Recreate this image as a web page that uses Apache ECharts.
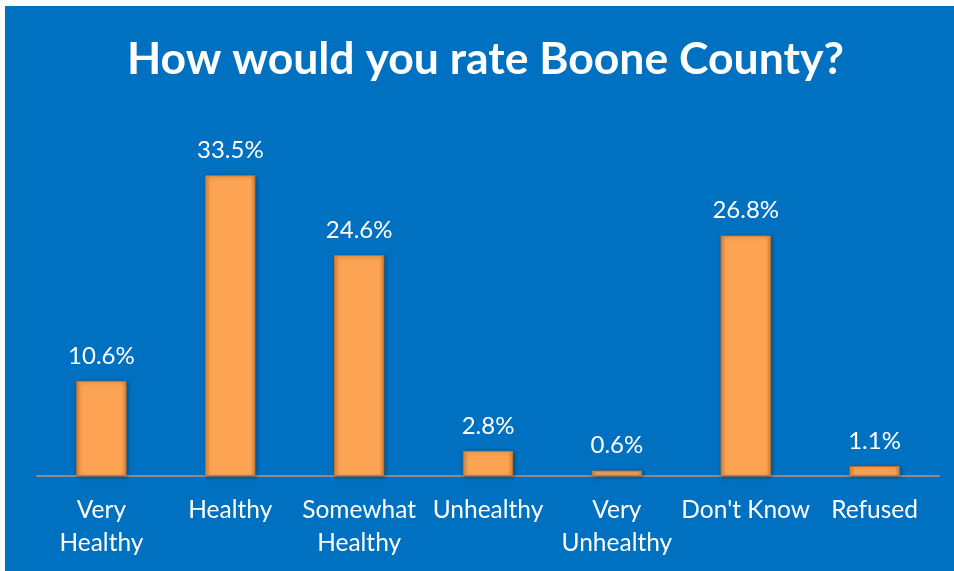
<!DOCTYPE html>
<html>
<head>
<meta charset="utf-8">
<script src="https://cdn.jsdelivr.net/npm/echarts@6/dist/echarts.min.js"></script>
<style>
html,body{margin:0;padding:0;background:#fff;}
#c{width:954px;height:571px;}
</style>
</head>
<body>
<div id="c"></div>
<script>
const titleText = 'How would you rate Boone County?';
const categories = ['Very\nHealthy', 'Healthy', 'Somewhat\nHealthy', 'Unhealthy', 'Very\nUnhealthy', "Don't Know", 'Refused'];
const percentages = [10.6, 33.5, 24.6, 2.8, 0.6, 26.8, 1.1];

const chart = echarts.init(document.getElementById('c'));
chart.setOption({
  backgroundColor: '#ffffff',
  animation: false,
  graphic: [{
    type: 'rect', z: -10, silent: true,
    shape: { x: 5, y: 6, width: 949, height: 565 },
    style: { fill: '#0070C0' }
  }],
  title: {
    text: titleText,
    left: 122,
    top: 32,
    textStyle: { color: '#ffffff', fontFamily: 'Lato', fontWeight: 'bold', fontSize: 44.5 }
  },
  grid: { left: 37, right: 15, top: 117, bottom: 95, containLabel: false },
  xAxis: {
    type: 'category',
    data: categories,
    axisLine: { lineStyle: { color: '#8C8C8C', width: 2 } },
    axisTick: { show: false },
    axisLabel: {
      interval: 0, color: '#ffffff', fontFamily: 'Lato', fontSize: 24.5,
      lineHeight: 33, margin: 18
    }
  },
  yAxis: {
    type: 'value', min: 0, max: 40, show: false,
    splitLine: { show: false }
  },
  series: [{
    type: 'bar',
    data: percentages,
    barWidth: '39%',
    itemStyle: {
      color: {
        type: 'linear', x: 0, y: 0, x2: 1, y2: 0,
        colorStops: [
          { offset: 0, color: '#E3883C' },
          { offset: 0.1, color: '#FCA453' },
          { offset: 0.9, color: '#FCA453' },
          { offset: 1, color: '#DE8438' }
        ]
      },
      borderColor: '#C97630',
      borderWidth: 1,
      shadowColor: 'rgba(0,0,0,0.35)',
      shadowBlur: 4,
      shadowOffsetX: 1,
      shadowOffsetY: 1
    },
    label: {
      show: true, position: 'top', distance: 13,
      color: '#ffffff', fontFamily: 'Lato', fontSize: 24,
      formatter: p => p.value + '%'
    }
  }]
});
</script>
</body>
</html>
